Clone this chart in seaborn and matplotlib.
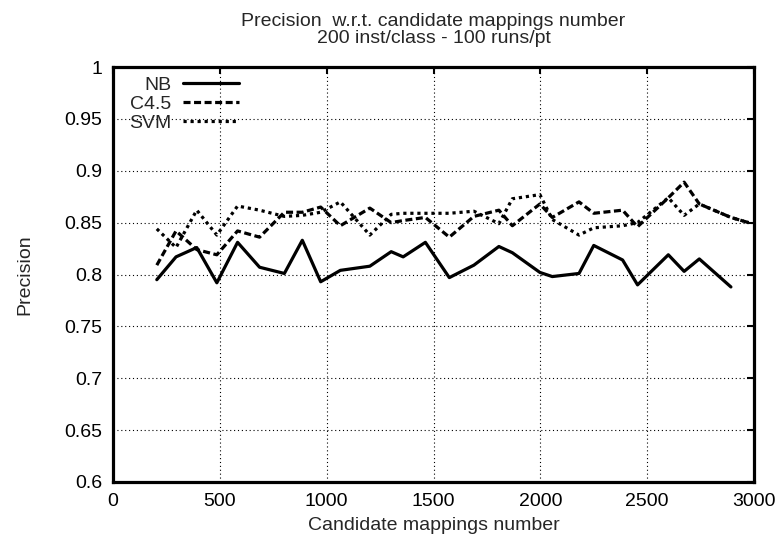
import seaborn as sns
import matplotlib.pyplot as plt
import pandas as pd

# candidate mappings number (x) and precision per classifier
x_nb = [205, 295, 392, 486, 583, 686, 802, 886, 972, 1064, 1202, 1302, 1358, 1462,
        1574, 1689, 1806, 1869, 1998, 2056, 2181, 2250, 2385, 2455, 2599, 2673, 2744, 2892]
nb = [0.795, 0.817, 0.826, 0.792, 0.831, 0.807, 0.801, 0.833, 0.793, 0.804, 0.808, 0.822,
      0.817, 0.831, 0.797, 0.809, 0.827, 0.821, 0.802, 0.798, 0.801, 0.828, 0.814, 0.790,
      0.819, 0.803, 0.815, 0.788]

x_other = [205, 295, 392, 486, 583, 686, 802, 886, 972, 1064, 1202, 1302, 1358, 1462,
           1574, 1689, 1806, 1869, 1998, 2056, 2181, 2250, 2385, 2455, 2599, 2673, 2744,
           2892, 2975]
c45 = [0.809, 0.842, 0.824, 0.819, 0.842, 0.836, 0.860, 0.860, 0.865, 0.847, 0.864, 0.850,
       0.852, 0.855, 0.836, 0.856, 0.862, 0.847, 0.868, 0.855, 0.870, 0.859, 0.862, 0.846,
       0.874, 0.889, 0.868, 0.855, 0.850]
svm = [0.844, 0.826, 0.862, 0.838, 0.866, 0.862, 0.856, 0.857, 0.860, 0.870, 0.838, 0.858,
       0.859, 0.859, 0.859, 0.861, 0.849, 0.873, 0.877, 0.853, 0.838, 0.845, 0.847, 0.850,
       0.874, 0.857, 0.868, 0.855, 0.850]

x_ticks = [0, 500, 1000, 1500, 2000, 2500, 3000]
y_ticks = [0.6, 0.65, 0.7, 0.75, 0.8, 0.85, 0.9, 0.95, 1.0]
y_ticklabels = ["0.6", "0.65", "0.7", "0.75", "0.8", "0.85", "0.9", "0.95", "1"]

sns.set_style("white")
plt.rcParams["font.family"] = ["Liberation Sans", "DejaVu Sans"]
fs = 14

fig = plt.figure(figsize=(7.8, 5.39), dpi=100)
ax = fig.add_axes([113 / 780, 1 - 482 / 539, (754 - 113) / 780, (482 - 67) / 539])

series = [
    ("NB", x_nb, nb, "-"),
    ("C4.5", x_other, c45, (0, (2.2, 1.1))),
    ("SVM", x_other, svm, (0, (1.0, 1.2))),
]
for name, xs, ys, ls in series:
    d = pd.DataFrame({"x": xs, "y": ys})
    sns.lineplot(data=d, x="x", y="y", ax=ax, color="black", linewidth=2.3,
                 linestyle=ls, label=name, dash_capstyle="butt")

ax.set_xlim(0, 3000)
ax.set_ylim(0.6, 1.0)
ax.set_xticks(x_ticks)
ax.set_yticks(y_ticks)
ax.set_yticklabels(y_ticklabels)
ax.grid(True, color="black", linestyle=(0, (1, 2.5)), linewidth=0.8)
ax.tick_params(direction="in", top=True, right=True, length=5, width=1.5,
               labelsize=fs, pad=8, colors="black")
for s in ax.spines.values():
    s.set_linewidth(2.3)
    s.set_color("black")

ax.set_xlabel("Candidate mappings number", fontsize=fs, labelpad=5)
ax.set_ylabel("Precision", fontsize=fs, labelpad=22)
ax.set_title("Precision  w.r.t. candidate mappings number\n200 inst/class - 100 runs/pt",
             fontsize=fs, pad=17, linespacing=1.05)

# gnuplot-style key: label then sample, rows right-aligned
ax.legend(loc="upper left", bbox_to_anchor=(0.025, 0.978), frameon=False,
          markerfirst=False, fontsize=fs, handlelength=2.9, handletextpad=0.6,
          labelspacing=0.08, borderaxespad=0, borderpad=0)

fig.savefig("out.png", dpi=100)
